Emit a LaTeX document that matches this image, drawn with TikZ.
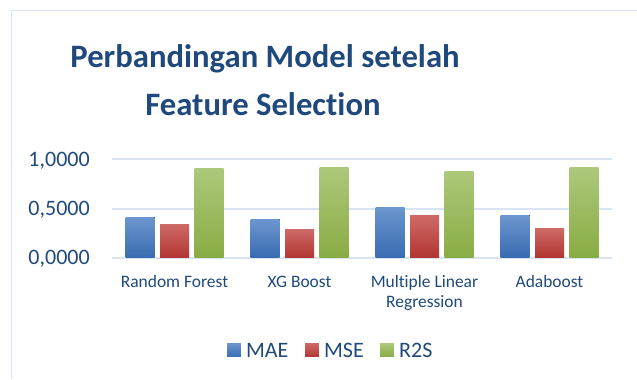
\documentclass[tikz,border=0pt]{standalone}
\usepackage{fontspec}
\setmainfont{Carlito}[Ligatures=CommonOff]
\usetikzlibrary{positioning}
\definecolor{titleblue}{RGB}{31,73,125}
\definecolor{gridblue}{RGB}{217,228,242}
\definecolor{maetop}{RGB}{108,150,206}
\definecolor{maebot}{RGB}{58,108,178}
\definecolor{msetop}{RGB}{206,106,102}
\definecolor{msebot}{RGB}{178,54,51}
\definecolor{r2stop}{RGB}{172,200,122}
\definecolor{r2sbot}{RGB}{138,172,68}

\begin{document}
\begin{tikzpicture}[x=0.03cm, y=-0.03cm,
  lbl/.style={text=titleblue, inner sep=0pt},
  gridline/.style={draw=gridblue, line width=1.7pt},
  mae/.style={top color=maetop, bottom color=maebot},
  mse/.style={top color=msetop, bottom color=msebot},
  r2s/.style={top color=r2stop, bottom color=r2sbot},
  keybox/.style={inner sep=0pt, minimum size=11.9pt}]
\useasboundingbox (0,0) rectangle (637,379);
\draw[gridblue, line width=1.3pt] (11.5,379) -- (11.5,10.5) -- (637,10.5);
\node[lbl, anchor=base, font=\fontsize{27.9}{33}\selectfont\bfseries] (title1) at (265,67) {Perbandingan Model setelah};
\node[lbl, anchor=base, font=\fontsize{27.9}{33}\selectfont\bfseries] (title2) at (263,115) {Feature Selection};
\draw[gridline] (112,159) -- (612,159);
\draw[gridline] (112,208.5) -- (612,208.5);
\draw[gridline] (112,258) -- (612,258);
\node[lbl, anchor=base east, font=\fontsize{18.8}{22}\selectfont] (y100) at (90,166) {1,0000};
\node[lbl, anchor=base east, font=\fontsize{18.8}{22}\selectfont] (y050) at (90,215) {0,5000};
\node[lbl, anchor=base east, font=\fontsize{18.8}{22}\selectfont] (y000) at (90,264) {0,0000};
\foreach \cx/\va/\vb/\vc in {174.5/0.41/0.34/0.90, 299.5/0.39/0.29/0.91, 424.5/0.51/0.43/0.87, 549.5/0.43/0.30/0.91}{
  \fill[mae] (\cx-49,257) rectangle (\cx-20,258-99*\va);
  \fill[mse] (\cx-14.5,257) rectangle (\cx+14.5,258-99*\vb);
  \fill[r2s] (\cx+20,257) rectangle (\cx+49,258-99*\vc);
}
\node[lbl, anchor=base, font=\fontsize{14.9}{17}\selectfont] (catrf) at (174.5,287) {Random Forest};
\node[lbl, anchor=base, font=\fontsize{14.9}{17}\selectfont] (catxg) at (299.5,287) {XG Boost};
\node[lbl, anchor=base, font=\fontsize{14.9}{17}\selectfont] (catmlr) at (424.5,287) {Multiple Linear};
\node[lbl, anchor=base, font=\fontsize{14.9}{17}\selectfont] (catmlr2) at (424.5,307) {Regression};
\node[lbl, anchor=base, font=\fontsize{14.9}{17}\selectfont] (catada) at (549.5,287) {Adaboost};
\node[keybox, mae] (keymae) at (234,350) {};
\node[lbl, font=\fontsize{18.8}{22}\selectfont, right=4pt of keymae] (txtmae) {MAE};
\node[keybox, mse] (keymse) at (312,350) {};
\node[lbl, font=\fontsize{18.8}{22}\selectfont, right=4pt of keymse] (txtmse) {MSE};
\node[keybox, r2s] (keyr2s) at (387,350) {};
\node[lbl, font=\fontsize{18.8}{22}\selectfont, right=4pt of keyr2s] (txtr2s) {R2S};
\end{tikzpicture}
\end{document}
